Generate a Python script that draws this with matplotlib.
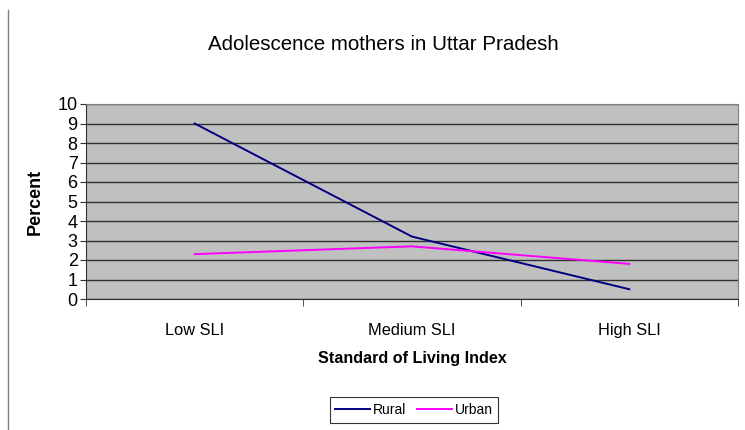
import matplotlib
matplotlib.use("Agg")
import matplotlib.pyplot as plt
from matplotlib.lines import Line2D
import numpy as np

plt.rcParams['font.family'] = ['Liberation Sans', 'DejaVu Sans']

# data
categories = ["Low SLI", "Medium SLI", "High SLI"]
rural = [9.0, 3.2, 0.5]
urban = [2.3, 2.7, 1.8]

fig = plt.figure(figsize=(7.45, 4.30), dpi=100)
ax = fig.add_axes([86/745, 131/430, 652/745, 195/430])
ax.set_facecolor("#C0C0C0")

x = np.arange(len(categories))
ax.plot(x, rural, color="#000080", lw=1.4, label="Rural")
ax.plot(x, urban, color="#FF00FF", lw=1.4, label="Urban")

ax.set_xlim(-0.5, len(categories) - 0.5)
ax.set_ylim(0, 10)
ax.set_yticks(range(0, 11))
ax.yaxis.grid(True, color="#303030", lw=1)
ax.set_axisbelow(True)

ax.set_xticks(x)
ax.set_xticklabels(categories, fontsize=11.8)
ax.set_xticks(np.arange(len(categories) + 1) - 0.5, minor=True)
ax.tick_params(axis="x", which="major", length=0, pad=17)
ax.tick_params(axis="x", which="minor", length=5, color="#303030")
ax.tick_params(axis="y", length=4, labelsize=13, pad=2, color="#303030")

for s in ["top", "right"]:
    ax.spines[s].set_color("#808080")
for s in ["left", "bottom"]:
    ax.spines[s].set_color("#303030")

ax.set_ylabel("Percent", fontsize=13, fontweight="bold", labelpad=10)
ax.set_xlabel("Standard of Living Index", fontsize=11.6, fontweight="bold", labelpad=10)
fig.text(383/745, 1 - 44/430, "Adolescence mothers in Uttar Pradesh",
         ha="center", va="center", fontsize=14.8)

# left border line
fig.add_artist(Line2D([8/745, 8/745], [0, 1 - 10/430], color="#808080", lw=1))

leg = fig.legend(loc="center", bbox_to_anchor=(414/745, 1 - 410/430), ncol=2,
                 fontsize=10, frameon=True, fancybox=False, edgecolor="black",
                 handlelength=2.5, handletextpad=0.2, columnspacing=0.8,
                 borderpad=0.4)
leg.get_frame().set_linewidth(0.8)

fig.savefig("out.png", dpi=100)
